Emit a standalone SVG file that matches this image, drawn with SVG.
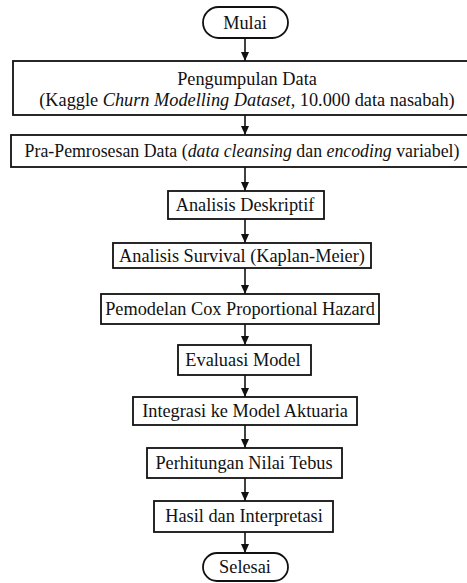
<svg xmlns="http://www.w3.org/2000/svg" width="467" height="583" viewBox="0 0 467 583">
<style>
.b{fill:#fff;stroke:#111;stroke-width:1.8}
.t{font-family:"Liberation Serif","Times New Roman",serif;font-size:18.3px;fill:#111;text-anchor:middle}
.c{stroke:#111;stroke-width:1.6;fill:none}
</style>
<defs>
<marker id="ah" markerWidth="10" markerHeight="10" refX="9" refY="5" orient="auto" markerUnits="userSpaceOnUse">
<path d="M0,1 L9,5 L0,9 Z" fill="#111"/>
</marker>
</defs>
<rect width="467" height="583" fill="#fff"/>
<g id="connectors">
<line class="c" x1="245" y1="38" x2="245" y2="61" marker-end="url(#ah)"/>
<line class="c" x1="245" y1="115" x2="245" y2="135" marker-end="url(#ah)"/>
<line class="c" x1="245" y1="167" x2="245" y2="191" marker-end="url(#ah)"/>
<line class="c" x1="245" y1="219" x2="245" y2="243" marker-end="url(#ah)"/>
<line class="c" x1="245" y1="268" x2="245" y2="294" marker-end="url(#ah)"/>
<line class="c" x1="245" y1="324" x2="245" y2="345" marker-end="url(#ah)"/>
<line class="c" x1="245" y1="375" x2="245" y2="397" marker-end="url(#ah)"/>
<line class="c" x1="245" y1="425" x2="245" y2="448" marker-end="url(#ah)"/>
<line class="c" x1="245" y1="478" x2="245" y2="501" marker-end="url(#ah)"/>
<line class="c" x1="245" y1="532" x2="245" y2="553" marker-end="url(#ah)"/>
</g>
<g id="mulai"><rect class="b" x="203" y="7" width="85" height="31" rx="15.5"/><text class="t" transform="translate(245,29) scale(1,1.07)">Mulai</text></g>
<g id="pengumpulan"><rect class="b" x="13" y="61" width="464" height="54"/><text class="t" transform="translate(247,85) scale(1,1.07)">Pengumpulan Data</text><text class="t" transform="translate(247,106) scale(1,1.07)">(Kaggle <tspan font-style="italic">Churn Modelling Dataset</tspan>, 10.000 data nasabah)</text></g>
<g id="prapemrosesan"><rect class="b" x="11" y="135" width="468" height="32"/><text class="t" style="font-size:17.8px" transform="translate(242,157) scale(1,1.1)">Pra-Pemrosesan Data (<tspan font-style="italic">data cleansing</tspan> dan <tspan font-style="italic">encoding</tspan> variabel)</text></g>
<g id="deskriptif"><rect class="b" x="168" y="191" width="156" height="28"/><text class="t" transform="translate(245,211) scale(1,1.07)">Analisis Deskriptif</text></g>
<g id="survival"><rect class="b" x="113" y="243" width="258" height="25"/><text class="t" transform="translate(242,262) scale(1,1.07)">Analisis Survival (Kaplan-Meier)</text></g>
<g id="cox"><rect class="b" x="101" y="294" width="278" height="30"/><text class="t" transform="translate(240,315) scale(1,1.07)">Pemodelan Cox Proportional Hazard</text></g>
<g id="evaluasi"><rect class="b" x="178" y="345" width="133" height="30"/><text class="t" transform="translate(243,366) scale(1,1.07)">Evaluasi Model</text></g>
<g id="integrasi"><rect class="b" x="133" y="397" width="224" height="28"/><text class="t" transform="translate(245,417) scale(1,1.07)">Integrasi ke Model Aktuaria</text></g>
<g id="perhitungan"><rect class="b" x="147" y="448" width="195" height="30"/><text class="t" transform="translate(244,469) scale(1,1.07)">Perhitungan Nilai Tebus</text></g>
<g id="hasil"><rect class="b" x="154" y="501" width="179" height="31"/><text class="t" transform="translate(244,522) scale(1,1.07)">Hasil dan Interpretasi</text></g>
<g id="selesai"><rect class="b" x="203" y="553" width="85" height="28" rx="14"/><text class="t" transform="translate(245,573) scale(1,1.07)">Selesai</text></g>
</svg>
